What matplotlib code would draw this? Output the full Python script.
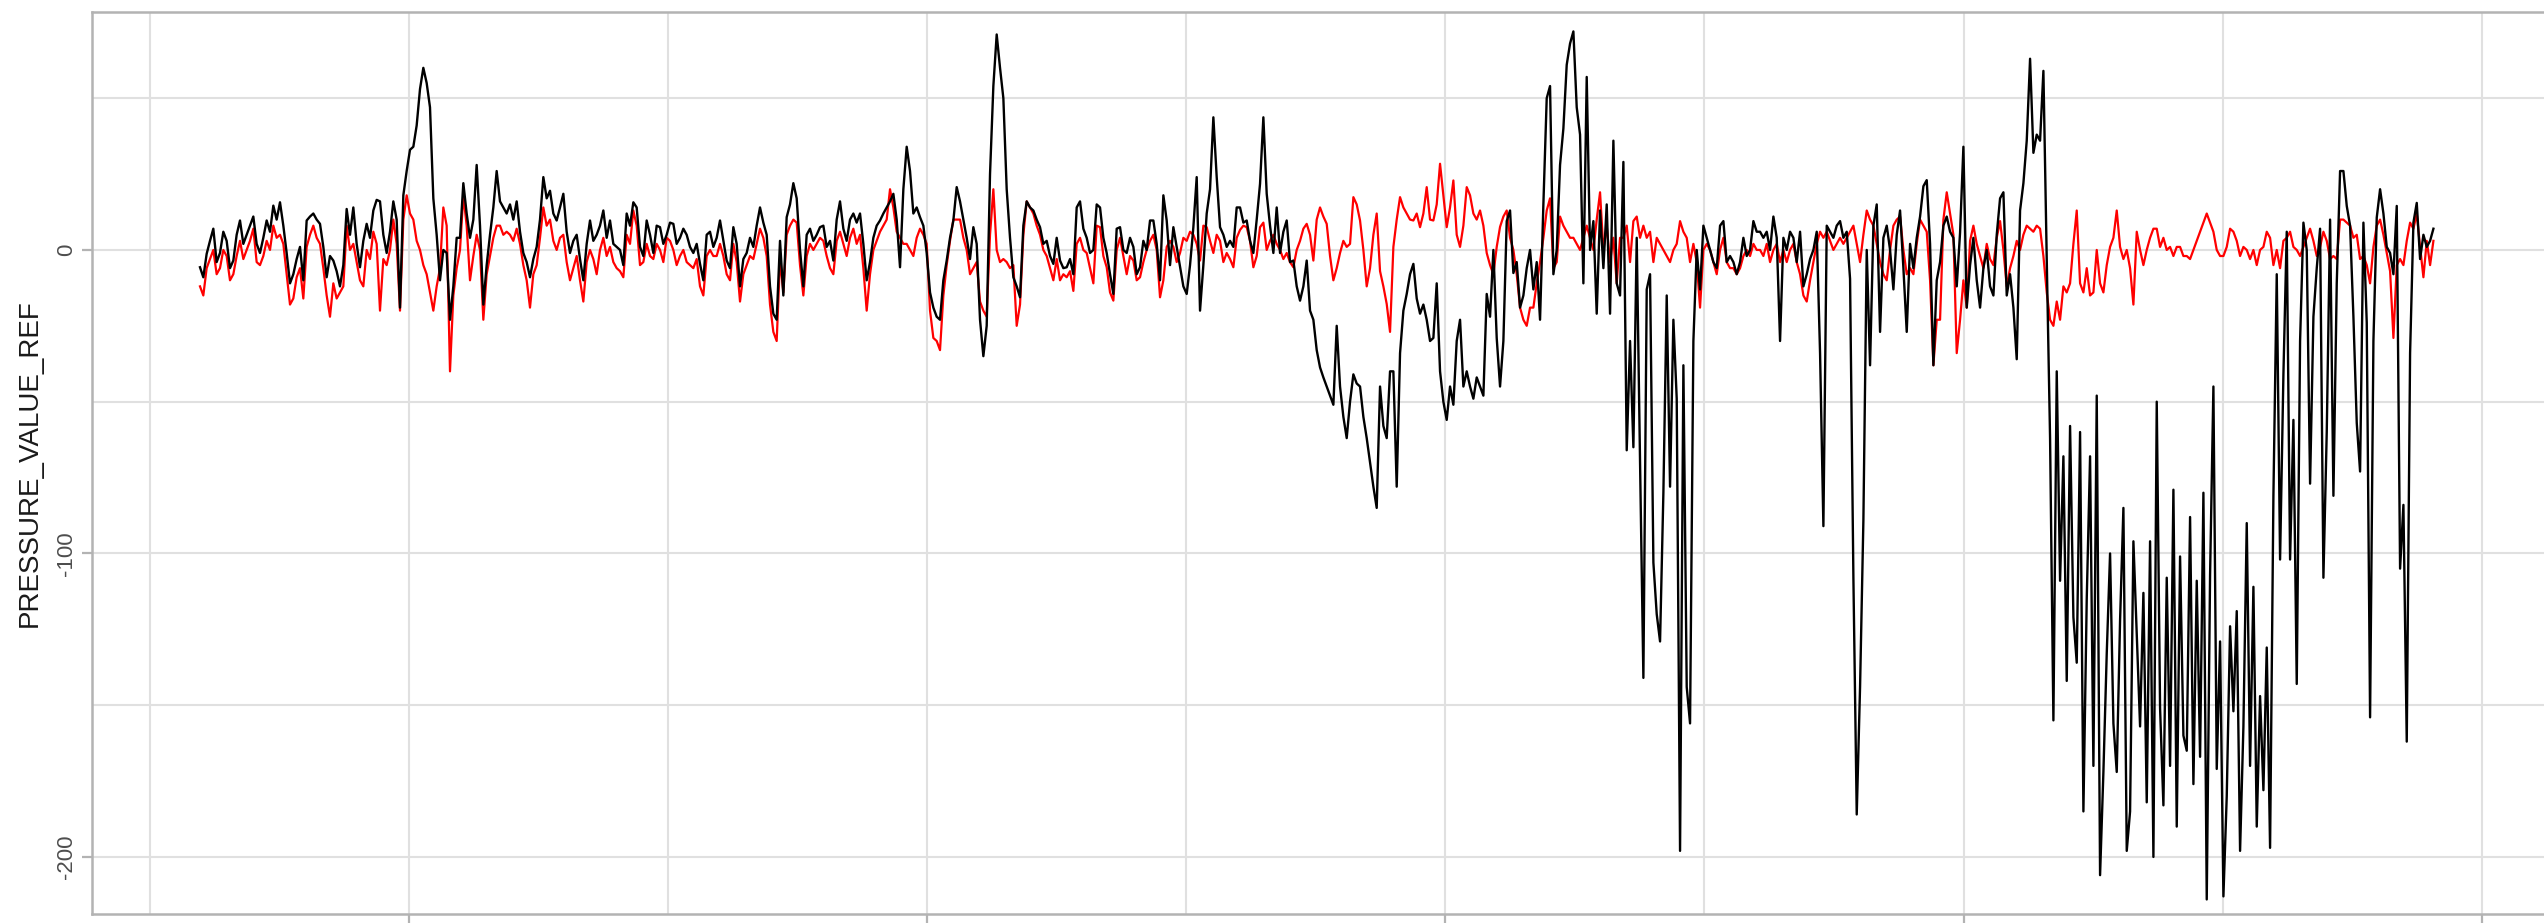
import numpy as np
import matplotlib
matplotlib.use('Agg')
import matplotlib.pyplot as plt

plt.rcParams['font.family'] = ['Liberation Sans', 'DejaVu Sans']

# black series (left to right)
black_1 = [-5.7, -9, -1.3, 3, 7, -4, -1, 6, 3, -6,
           -3.5, 5, 9.7, 2, 5, 8, 11, 2, -1, 4,
           9.7, 6, 14.6, 10, 15.7, 8, -1, -11, -8, -3,
           1, -10, 9.7, 11, 12, 10, 8.6, 1, -9, -2,
           -3.5, -7, -12, -5, 13.5, 5, 14, 2, -5.7, 3,
           8.6, 4, 13, 16.5, 16, 5, -1, 6, 16, 10,
           -19, 18, 26, 33, 34, 41, 53, 60, 55, 47,
           17, 5, -10, 0, -1, -23, -12, 4, 4, 22,
           12, 4, 10, 28, 8, -18, -5, 5, 14, 26,
           16, 14, 12, 15, 10, 16, 6, -1, -4, -9,
           -3, 1, 10, 24, 17, 19.5, 12, 9.7, 14, 18.5,
           6, -1, 3, 5, -3, -10, 2, 9.7, 3, 5,
           8, 13, 4, 9.7, 2, 1]
black_2 = [0, -5, 12, 8, 15.7, 14, 1, -2, 9.7, 5,
           -1, 8, 7.5, 2, 5, 9, 8.6, 2, 4, 7,
           5, 1, -1, 2, -4.6, -10, 5, 6, 1, 4,
           9.7, 3, -3.5, -6, 7.5, 2, -12, -3, -1, 4,
           1, 8, 14, 9, 5, -12, -21, -23, 3, -15,
           10.8, 15, 22, 17, 0, -12, 5, 7, 3, 5,
           7.5, 8, 1, 3, -3.5, 10, 16, 7, 3, 10,
           12, 9, 12, 2, -10, -4, 4, 8, 9.7, 12,
           14, 16, 18.5, 10, -5.7, 20, 34, 26, 12, 14,
           10.8, 8, -1, -14, -19, -22, -23, -10, -3.5, 4,
           9.7, 20.7, 16, 10, 4, -3, 7.5, 2, -23, -35,
           -25, 25, 54, 71, 60, 50, 20, 4, -9, -12,
           -15.6, 8, 16, 14, 13, 10, 7.5, 2, 3, -2,
           -4.6, 4]
black_3 = [-3.5, -6, -5.7, -3, -8, 14, 16, 7, 4, -1,
           0, 15, 14, 4, -1, -8, -14.5, 7, 7.5, 0,
           -1, 4, 1, -8, -5.7, 3, 0, 9.7, 9.7, 2,
           -10, 18, 9.7, -5, 7.5, 1, -5.7, -12, -14.5, -5,
           7.5, 24, -20, -5, 12, 20, 43.7, 24, 7.5, 5,
           1, 3, 1, 14, 14, 9, 9.7, 3, -1, 10,
           21.8, 43.7, 18.5, 8, -1, 14, -1, 6, 9.7, -4,
           -3.5, -12, -16.7, -12, -3.5, -20, -23, -33, -38.7, -42,
           -45, -48, -51, -25, -45, -55, -62, -50, -41, -44,
           -45, -55, -62, -70, -78, -85, -45, -58, -62, -40,
           -40, -78, -34, -20, -14.5, -8, -4.6, -16, -21, -18,
           -23, -30, -29, -11, -40, -50, -56, -45, -51, -30,
           -23, -45, -40, -45, -49, -42, -45, -48, -14.5, -22,
           0, -29]
black_4 = [-45, -30, 9.5, 13, -7.6, -4, -19, -15, -6, 0,
           -13, -4, -23, 15, 50, 54, -8, 0, 28, 40,
           61, 68, 72, 47, 38, -11, 57, 0, 9.5, -21,
           13, -6, 15, -21, 36, -11, -15, 29, -66, -30,
           -65, 4, -70, -141, -13, -8, -103, -120, -129, -80,
           -15, -78, -23, -49, -198, -38, -144, -156, -30, 0,
           -13, 8, 4, 0, -4, -6, 8, 9.5, -4, -2,
           -4, -8, -4, 4, -2, 0, 9.5, 6, 6, 4,
           6, 0, 11, 4, -30, 4, 0, 6, 4, -4,
           6, -12, -8, -3, 0, 6, -34, -91, 8, 6,
           4, 8, 9.5, 4, 6, -9.5, -108, -186, -144, -89,
           0, -38, 8, 15, -27, 4, 8, 0, -13, 5,
           13, -6, -27, 2, -6, 4, 11, 21, 23, 2,
           -38, -10]
black_5 = [-4, 8, 11, 6, 4, -12, 5.7, 34, -19, -5,
           4, -10, -19, -6, 0, -12, -15, 5, 17, 19,
           -15, -8, -19, -36, 13, 22, 36, 63, 32, 38,
           36, 59, -3, -62, -155, -40, -109, -68, -142, -58,
           -121, -136, -60, -185, -115, -68, -170, -48, -206, -172,
           -133, -100, -156, -172, -122, -85, -198, -185, -96, -126,
           -157, -113, -182, -96, -200, -50, -151, -183, -108, -170,
           -79, -190, -101, -160, -165, -88, -176, -109, -167, -80,
           -214, -107, -45, -171, -129, -213, -180, -124, -152, -119,
           -198, -157, -90, -170, -111, -190, -147, -178, -131, -197,
           -81, -8, -102, -41, 6, -102, -56, -143, -30, 9,
           0, -77, -22, -6, 7, -108, -60, 10]
black_6 = [-81, -11, 26, 26, 14.5, 8, -22, -57, -73, 9,
           -24, -154, -30, 10.7, 20, 12, 1, -1, -8, 14.5,
           -105, -84, -162, -34, 9, 15.5, -3, 5, 1, 3,
           7]

# red series
red_1 = [-12, -15, -6, -3, 0, -8, -6, 0, -2, -10,
         -8, -2, 3, -3, 0, 3, 7, -4, -5, -2,
         3, 0, 8, 4, 5, 2, -8, -18, -16, -9,
         -6, -16, 1, 5, 8, 4, 2, -6, -15, -22,
         -11, -16, -14, -12, 8, 0, 2, -4, -10, -12,
         0, -3, 6, 2, -20, -3, -5, 0, 10, 2,
         -20, 10, 18, 12, 10, 3, 0, -5, -8, -14,
         -20, -12, -6, 14, 8, -40, -15, -6, 0, 18,
         8, -10, -2, 5, 0, -23, -8, -2, 4, 8,
         8, 5, 6, 5, 3, 7, 2, -5, -10, -19,
         -8, -5, 4, 14, 8, 10, 3, 0, 4, 5,
         -4, -10, -6, -2, -10, -17, -4, 0, -3, -8,
         0, 4, -2, 1, -4, -6]
red_2 = [-7, -9, 5, 2, 13, 8, -5, -4, 2, -2,
         -3, 2, 0, -4, 4, 3, 0, -5, -2, 0,
         -4, -5, -6, -3, -12, -15, -2, 0, -2, -2,
         2, -2, -8, -10, 2, -4, -17, -8, -5, -2,
         -3, 2, 7, 4, -2, -18, -27, -30, -3, -14,
         5, 8, 10, 9, -5, -15, -2, 2, 0, 2,
         4, 3, -2, -6, -8, 3, 6, 2, -2, 4,
         7, 2, 5, -6, -20, -8, 0, 3, 6, 8,
         10, 20, 14, 6, 4, 2, 2, 0, -2, 4,
         7, 5, 2, -20, -29, -30, -33, -15, -5, 3,
         10, 10, 10, 4, 0, -8, -6, -4, -17, -20,
         -22, 5, 20, 0, -4, -3, -4, -6, -5, -25,
         -18, 5, 16, 14, 12, 8, 5, 0, -2, -6,
         -10, -3]
red_3 = [-10, -8, -9, -7, -13.5, 2, 4, 0, -1, -6,
         -11, 8, 7.5, -2, -5.7, -14, -16.7, 0, 4, -2,
         -8, -2, -3.5, -10, -9, -4, 0, 3, 5, 0,
         -15.6, -10, 1, 3, 1, -4, -1, 4, 3, 6,
         5, 2, -3.5, 8, 7.5, 3, -1, 5, 3, -4,
         -1, -3, -5.7, 4, 6.6, 8, 7.5, 3, -5.7, -2,
         7.5, 9, 0, 3, 5, 2, 0, -3, -1, -4,
         -5.7, 0, 3, 7, 8.6, 5, -3.5, 10, 14, 11,
         8.6, -2, -10, -6, -1, 3, 1, 2, 17.4, 15,
         9.7, 0, -12, -6, 5, 12, -7, -12, -17.8, -27,
         1, 10, 17.4, 14, 12, 10, 9.7, 12, 7.5, 12,
         20.7, 10, 9.7, 15, 28.4, 18, 7.5, 14, 22.9, 5,
         1, 8, 20.7, 18, 12, 10, 13, 8, -1, -5,
         -8, 1]
red_4 = [7.6, 11, 13, 4, 0, -8, -19, -23, -25, -19,
         -19, -11, -4, 4, 13, 17, -6, -4, 11, 8,
         6, 4, 4, 2, 0, 4, 8, 4, 0, 10,
         19, 0, 8, -4, 4, -11, 4, 4, 8, -4,
         9.5, 11, 4, 8, 4, 6, -4, 4, 2, 0,
         -2, -4, 0, 2, 9.5, 6, 4, -4, 2, -4,
         -19, 0, 2, 0, -4, -8, 0, 4, -4, -6,
         -6, -8, -6, -2, 0, -2, 2, 0, 0, -2,
         2, -4, 0, 2, -4, 0, -4, 0, 2, -4,
         -8, -15, -17, -10, -4, 2, 6, 4, 6, 3,
         0, 2, 4, 2, 4, 6, 8, 2, -4, 5,
         13, 10, 8, 2, -4, -8, -10, 0, 8, 10,
         11, 0, -8, -6, -8, 2, 10, 8, 6, -10,
         -38, -23]
red_5 = [-23, 10, 19, 12, 5, -34, -23, -10, -19, 3,
         8, 2, -2, -6, 2, -3, -5, 4, 9.5, 0,
         -12, -6, -2, 3, 0, 5, 8, 7, 6, 8,
         7, -2, -14, -23, -25, -17, -23, -12, -14, -11,
         2, 13, -11, -14, -6, -15, -14, 0, -11, -14,
         -5, 1, 4, 13, 1, -3, 0, -6, -18, 6,
         0, -5, 0, 4, 7, 7, 1, 4, 0, 1,
         -2, 1, 1, -2, -2, -3, 0, 3, 6, 9,
         12, 9, 6, 0, -2, -2, 1, 7, 6, 3,
         -2, 1, 0, -3, 0, -5, 0, 1, 6, 4,
         -5, 0, -6, 3, 4, 6, 1, 0, -2, 1,
         4, 7, 3, -2, 1, 6, 3, -3]
red_6 = [-2, -3, 10, 10, 9, 8, 4, 5, -3, -2,
         -5, -11, 1, 8, 10, 5, -1, -7, -29, -5,
         -3, -5, 3, 9, 7, 12, 1, -9, 3, -5,
         3]

black_parts = [black_1, black_2, black_3, black_4, black_5, black_6]
red_parts = [red_1, red_2, red_3, red_4, red_5, red_6]
for b, r in zip(black_parts, red_parts):
    if len(b) != len(r):
        raise ValueError('length mismatch %s' % [(len(p), len(q)) for p, q in zip(black_parts, red_parts)])

black = np.concatenate(black_parts)
red = np.concatenate(red_parts)

# evenly spaced time axis (one major grid step = 1 unit)
t_start, t_step = 0.5967, 0.006433
t = t_start + t_step * np.arange(len(black))

fig = plt.figure(figsize=(25.44, 9.23), dpi=100)
ax = fig.add_axes([92 / 2544, 9 / 923, (2547 - 92) / 2544, 902 / 923])

grid_col = '#e0e0e0'
border_col = '#b3b3b3'

ax.plot(t, red, color='red', lw=1.6, zorder=3)
ax.plot(t, black, color='black', lw=1.7, zorder=4)

ax.set_xlim(0.3883, 5.126)
ax.set_ylim(-218.8, 78.4)

ax.set_xticks([1, 2, 3, 4, 5])
ax.set_xticks([0.5, 1.5, 2.5, 3.5, 4.5], minor=True)
ax.set_yticks([-200, -100, 0])
ax.set_yticks([-150, -50, 50], minor=True)
ax.set_yticklabels(['-200', '-100', '0'])

ax.grid(which='both', color=grid_col, lw=1.5, zorder=0)
ax.set_axisbelow(True)

for s in ax.spines.values():
    s.set_color(border_col)
    s.set_linewidth(1.8)

ax.tick_params(axis='x', which='major', length=8, width=1.6, color=border_col, labelbottom=False)
ax.tick_params(axis='y', which='major', length=7, width=1.6, color=border_col,
               labelsize=16, labelcolor='#4d4d4d', pad=4)
ax.tick_params(which='minor', length=0)
for lbl in ax.get_yticklabels():
    lbl.set_rotation(90)
    lbl.set_va('center')

fig.text(30 / 2544, 1 - 463 / 923, 'PRESSURE_VALUE_REF', rotation=90,
         ha='center', va='center', fontsize=20, color='#1a1a1a')

fig.savefig('out.png', dpi=100, facecolor='white')
